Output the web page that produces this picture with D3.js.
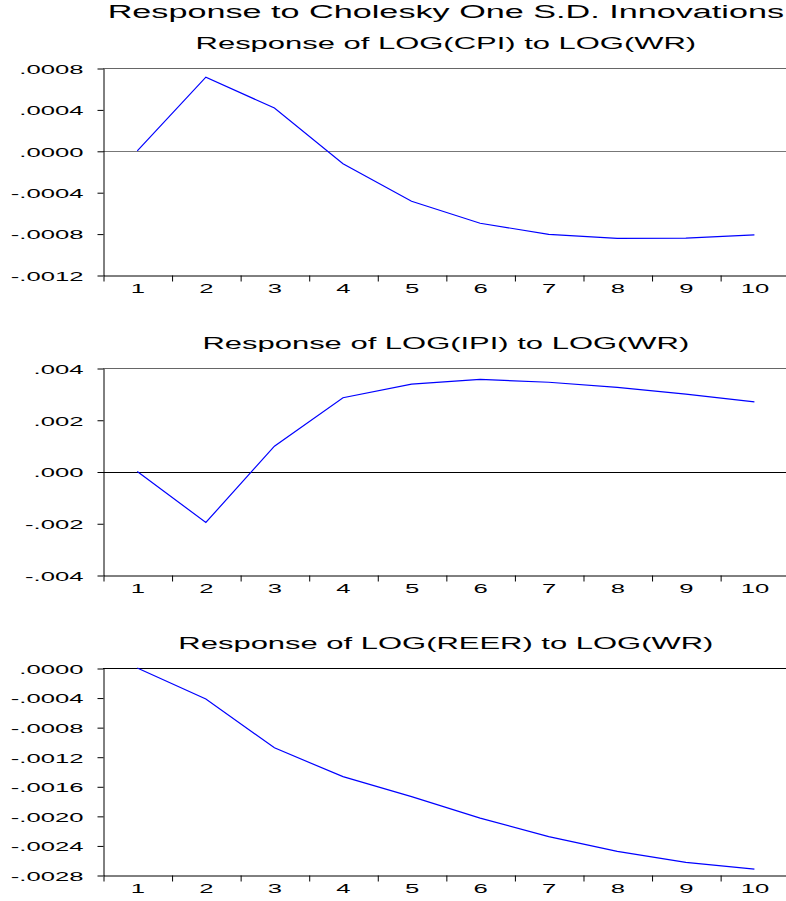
<!DOCTYPE html>
<html>
<head>
<meta charset="utf-8">
<script src="https://cdn.jsdelivr.net/npm/d3@7"></script>
<style>
  body { margin: 0; background: #fff; }
  svg { display: block; font-family: "Liberation Sans", Arial, sans-serif; }
  .domain { stroke: #000; }
  .tick line { stroke: #000; }
</style>
</head>
<body>
<div id="chart"></div>
<script>
// periodi dell'impulso-risposta
const periods = [1, 2, 3, 4, 5, 6, 7, 8, 9, 10];

// risposte
const cpiResp = [0, 0.000712, 0.000413, -0.000125, -0.000488, -0.000700, -0.000807, -0.000846, -0.000843, -0.000813];
const ipiResp = [0, -0.00197, 0.00098, 0.00285, 0.00338, 0.00356, 0.00345, 0.00325, 0.00299, 0.00269];
const reerResp = [0, -0.00042, -0.00108, -0.00147, -0.00174, -0.00203, -0.00228, -0.00248, -0.00263, -0.00272];

// tick dell'asse y
const cpiTicks = [0.0008, 0.0004, 0, -0.0004, -0.0008, -0.0012];
const ipiTicks = [0.004, 0.002, 0, -0.002, -0.004];
const reerTicks = [0, -0.0004, -0.0008, -0.0012, -0.0016, -0.0020, -0.0024, -0.0028];

const mainTitle = "Response to Cholesky One S.D. Innovations";
const panelTitles = [
    "Response of LOG(CPI) to LOG(WR)",
    "Response of LOG(IPI) to LOG(WR)",
    "Response of LOG(REER) to LOG(WR)"
];

const W = 786, H = 901;
const SX = 1.9; // testo "stirato" in orizzontale come in EViews
const left = 103, right = 788.7;

const svg = d3.select("#chart").append("svg")
    .attr("width", W)
    .attr("height", H);

// testo allargato orizzontalmente
function wideText(parent, x, y, str, size, anchor) {
    parent.append("g")
        .attr("transform", `translate(${x},${y})`)
        .append("text")
        .attr("transform", `scale(${SX},1)`)
        .attr("text-anchor", anchor)
        .style("font-size", size + "px")
        .attr("fill", "#000")
        .text(str);
}

// formato EViews: niente zero iniziale, trattino normale
const locale = d3.formatLocale({ decimal: ".", thousands: ",", grouping: [3], currency: ["", ""], minus: "-" });
function fmt(decimals) {
    const f = locale.format("." + decimals + "f");
    return v => f(Math.abs(v) < 1e-12 ? 0 : v).replace(/^(-?)0\./, "$1.");
}

const x = d3.scaleLinear().domain([0.5, 10.5]).range([left, right]);

wideText(svg, (left + right) / 2, 18, mainTitle, 18, "middle");

const panels = [
    { values: cpiResp, ticks: cpiTicks, dec: 4, top: 68, zero: "#777" },
    { values: ipiResp, ticks: ipiTicks, dec: 3, top: 368, zero: "#000" },
    { values: reerResp, ticks: reerTicks, dec: 4, top: 668, zero: "#000" }
];

panels.forEach((p, i) => {
    const top = p.top, bottom = top + 207;
    const y = d3.scaleLinear()
        .domain(d3.extent(p.ticks))
        .range([bottom, top]);

    const g = svg.append("g");

    wideText(g, (left + right) / 2, top - 19.5, panelTitles[i], 16.3, "middle");

    // bordo superiore
    g.append("line")
        .attr("x1", left).attr("x2", right)
        .attr("y1", top + 0.5).attr("y2", top + 0.5)
        .attr("stroke", "#666");

    // linea dello zero
    g.append("line")
        .attr("x1", left).attr("x2", right)
        .attr("y1", Math.round(y(0)) + 0.5).attr("y2", Math.round(y(0)) + 0.5)
        .attr("stroke", p.zero);

    // asse y
    const yAxis = g.append("g")
        .attr("transform", `translate(${left + 0.5},0.5)`)
        .call(d3.axisLeft(y).tickValues(p.ticks).tickSize(6).tickSizeOuter(0).tickFormat(fmt(p.dec)));
    yAxis.selectAll("text")
        .attr("x", -20 / SX)
        .attr("dy", "0.36em")
        .attr("transform", `scale(${SX},1)`)
        .style("font-size", "13.5px")
        .attr("fill", "#000");

    // asse x: tacche ai bordi delle categorie, etichette al centro
    g.append("g")
        .attr("transform", `translate(0.5,${bottom + 0.5})`)
        .call(d3.axisBottom(x).tickValues(d3.range(0.5, 10.6, 1)).tickSize(6).tickSizeOuter(0).tickFormat(""));
    const xLab = g.append("g")
        .attr("transform", `translate(0,${bottom})`)
        .call(d3.axisBottom(x).tickValues(periods).tickSize(0).tickFormat(d3.format("d")));
    xLab.select(".domain").remove();
    xLab.selectAll("text")
        .attr("y", 0)
        .attr("dy", "18.5px")
        .attr("transform", `scale(${SX},1)`)
        .style("font-size", "13.5px")
        .attr("fill", "#000");

    // curva di risposta
    const line = d3.line()
        .x((d, j) => x(periods[j]))
        .y(d => y(d));
    g.append("path")
        .datum(p.values)
        .attr("fill", "none")
        .attr("stroke", "#0000ff")
        .attr("stroke-width", 1.2)
        .attr("d", line);
});
</script>
</body>
</html>
